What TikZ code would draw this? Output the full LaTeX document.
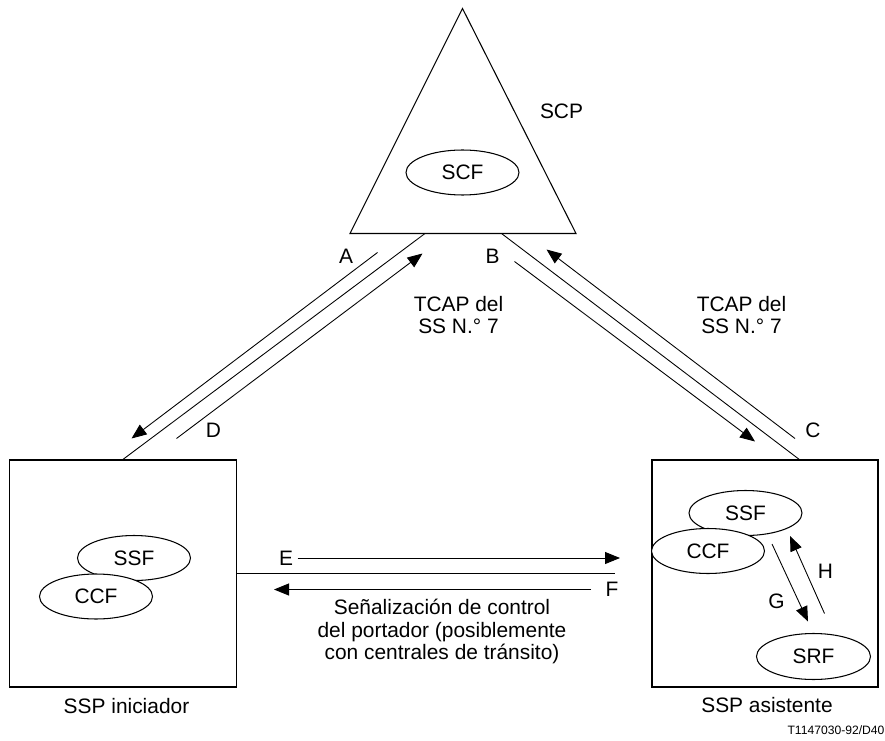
\documentclass[tikz,border=0pt]{standalone}
\usepackage{fontspec}
\setmainfont{Liberation Sans}
\usetikzlibrary{arrows.meta,shapes.geometric}

\begin{document}
\begin{tikzpicture}[
  font=\fontsize{11.9pt}{12.6pt}\selectfont,
  func/.style={draw, ellipse, fill=white, line width=0.6pt, inner sep=0pt,
    minimum width=2.26cm, minimum height=0.9cm},
  sspbox/.style={draw, line width=0.7pt, inner sep=0pt,
    minimum width=4.54cm, minimum height=4.54cm},
  link/.style={line width=0.5pt},
  sig/.style={line width=0.5pt, -{Triangle[length=0.3cm,width=0.24cm]}}
]
  \useasboundingbox (0,0) rectangle (17.7,14.8);

  % SCP triangle with the SCF inside
  \coordinate (apex) at (9.25,14.63);
  \coordinate (baseL) at (7.0,10.13);
  \coordinate (baseR) at (11.52,10.13);
  \draw[line width=0.6pt] (apex) -- (baseL) -- (baseR) -- cycle;
  \node[func] (scf) at (9.25,11.35) {SCF};
  \node (scp) at (11.23,12.57) {SCP};

  % the two SSPs
  \node[sspbox] (ini) at (2.46,3.33) {};
  \node[sspbox, minimum width=4.52cm] (ast) at (15.3,3.33) {};
  \node (iniName) at (2.53,0.68) {SSP iniciador};
  \node (astName) at (15.34,0.69) {SSP asistente};
  \node[font=\fontsize{6.9pt}{8pt}\selectfont] (ref) at (16.72,0.2) {T1147030-92/D40};

  % CCF drawn after SSF so it hides the lower arc
  \node[func] (ssfA) at (2.68,3.64) {SSF};
  \node[func] (ccfA) at (1.92,2.87) {CCF};
  \node[func] (ssfB) at (14.91,4.54) {SSF};
  \node[func] (ccfB) at (14.16,3.78) {CCF};
  \node[func, minimum width=2.28cm, minimum height=0.92cm] (srf) at (16.27,1.67) {SRF};

  % TCAP links from the SCP down to the SSPs
  \coordinate (scpL) at (8.5,10.13);
  \coordinate (scpR) at (10.03,10.13);
  \coordinate (astTop) at (16.0,5.6);
  \draw[link] (scpL) -- (ini.north);
  \draw[link] (scpR) -- (astTop);

  \coordinate (a1) at (7.55,9.75);   \coordinate (a2) at (2.63,6.03);
  \coordinate (d1) at (3.53,6.03);   \coordinate (d2) at (8.45,9.73);
  \coordinate (b1) at (10.29,9.57);  \coordinate (b2) at (15.1,5.97);
  \coordinate (c1) at (15.9,6.03);   \coordinate (c2) at (10.93,9.81);
  \draw[sig] (a1) -- (a2);
  \draw[sig] (d1) -- (d2);
  \draw[sig] (b1) -- (b2);
  \draw[sig] (c1) -- (c2);
  \node (lA) at (6.92,9.67) {A};
  \node (lD) at (4.27,6.2) {D};
  \node (lB) at (9.85,9.68) {B};
  \node (lC) at (16.26,6.2) {C};
  \node[align=center] (tcapL) at (9.17,8.5) {TCAP del\\SS N.° 7};
  \node[align=center] (tcapR) at (14.83,8.5) {TCAP del\\SS N.° 7};

  % bearer signalling between the SSPs
  \coordinate (bus) at (12.3,3.33);
  \draw[line width=1.1pt] (ini.east) -- (bus);
  \coordinate (e1) at (5.95,3.64);   \coordinate (e2) at (12.4,3.64);
  \coordinate (f1) at (11.82,3.01);  \coordinate (f2) at (5.48,3.01);
  \draw[sig] (e1) -- (e2);
  \draw[sig] (f1) -- (f2);
  \node (lE) at (5.72,3.64) {E};
  \node (lF) at (12.24,3.01) {F};
  \node[align=center] (bearer) at (8.84,2.17)
    {Señalización de control\\del portador (posiblemente\\con centrales de tránsito)};

  % SSF <-> SRF inside the assisting SSP
  \coordinate (g1) at (15.44,3.92);  \coordinate (g2) at (16.16,2.37);
  \coordinate (h1) at (16.49,2.53);  \coordinate (h2) at (15.8,4.08);
  \draw[sig] (g1) -- (g2);
  \draw[sig] (h1) -- (h2);
  \node (lG) at (15.53,2.77) {G};
  \node (lH) at (16.51,3.37) {H};
\end{tikzpicture}
\end{document}
